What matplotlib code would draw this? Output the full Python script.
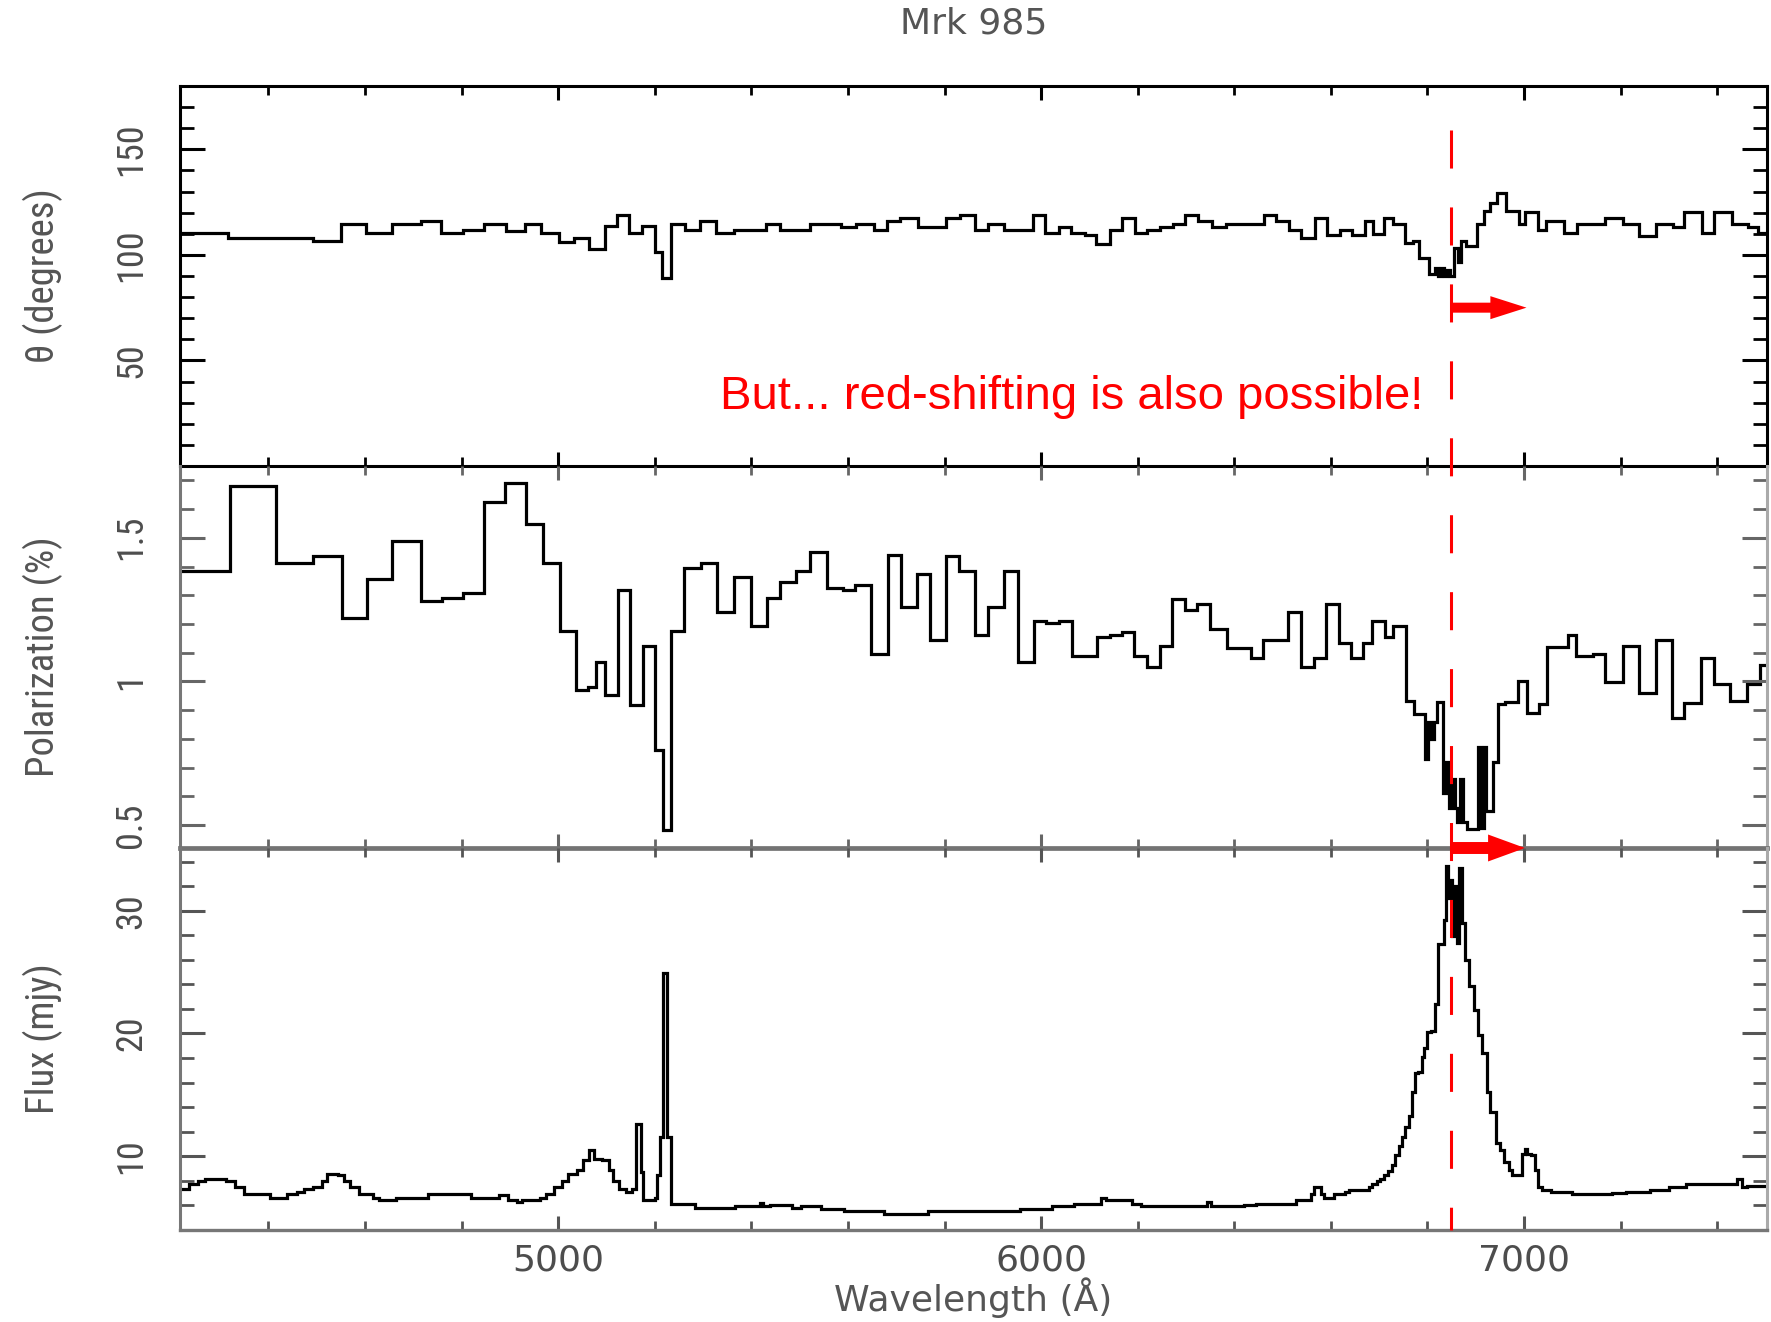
import os
import matplotlib
matplotlib.use('Agg')
import matplotlib.pyplot as plt
from matplotlib import font_manager
from matplotlib.font_manager import FontProperties
from matplotlib.ticker import MultipleLocator, FixedLocator, FixedFormatter
from matplotlib.lines import Line2D
from matplotlib.patches import FancyArrowPatch, ArrowStyle
from matplotlib.transforms import blended_transform_factory

plt.rcParams['lines.scale_dashes'] = False

# ---------------- data ----------------
title = "Mrk 985"
x_label = "Wavelength (Å)"
theta_label = "θ (degrees)"
pol_label = "Polarization (%)"
flux_label = "Flux (mjy)"
note_text = "But... red-shifting is also possible!"

x_range = [4217, 7503]
x_major = [5000, 6000, 7000]
x_major_labels = ["5000", "6000", "7000"]

theta_range = [0, 180]
theta_ticks = [50, 100, 150]
theta_tick_labels = ["50", "100", "150"]

pol_range = [0.42, 1.75]
pol_ticks = [0.5, 1.0, 1.5]
pol_tick_labels = ["0.5", "1", "1.5"]

flux_range = [4.0, 35.1]
flux_ticks = [10, 20, 30]
flux_tick_labels = ["10", "20", "30"]

line_wave = 6848          # marked line (Angstrom)
shift_to = 7005           # arrow tip (Angstrom)

theta_edges = [
    4217, 4317, 4492, 4550, 4603, 4656, 4716, 4758, 4804, 4846,
    4891, 4931, 4965, 5001, 5033, 5063, 5098, 5121, 5147, 5174,
    5200, 5216, 5234, 5262, 5293, 5327, 5364, 5431, 5459, 5521,
    5586, 5616, 5653, 5681, 5708, 5745, 5803, 5833, 5863, 5889,
    5924, 5983, 6008, 6037, 6062, 6091, 6114, 6142, 6168, 6195,
    6219, 6246, 6273, 6297, 6324, 6353, 6382, 6461, 6487, 6514,
    6538, 6568, 6591, 6618, 6643, 6670, 6688, 6710, 6729, 6753,
    6769, 6782, 6804, 6816, 6822, 6828, 6834, 6840, 6846, 6854,
    6864, 6870, 6879, 6902, 6916, 6930, 6943, 6962, 6989, 7002,
    7029, 7045, 7082, 7109, 7168, 7204, 7238, 7273, 7308, 7332,
    7369, 7393, 7431, 7463, 7484, 7510]
theta_values = [
    110.3, 107.9, 106.7, 114.6, 110.3, 114.6, 115.9, 110.3, 111.9, 114.6,
    111.4, 114.6, 110.3, 106.3, 107.9, 102.7, 113.5, 118.9, 110.3, 113.5,
    101.6, 89.2, 114.6, 111.9, 115.9, 110.3, 111.9, 114.6, 111.9, 114.6,
    113.3, 114.6, 111.9, 115.9, 117.3, 113.3, 117.3, 118.9, 111.7, 114.6,
    111.9, 118.9, 110.6, 113.3, 110.6, 109.5, 105.1, 111.9, 117.3, 110.6,
    111.9, 113.3, 114.6, 118.7, 115.9, 113.3, 114.6, 118.7, 115.9, 111.9,
    107.9, 117.3, 109.5, 111.9, 109.5, 115.9, 109.8, 117.3, 114.6, 105.4,
    106.7, 98.3, 91.1, 93.7, 90.0, 93.7, 90.0, 93.0, 90.0, 103.5,
    96.5, 106.7, 104.0, 114.6, 121.0, 124.4, 129.2, 121.0, 114.6, 120.2,
    111.9, 115.9, 110.3, 114.6, 117.3, 114.6, 109.0, 114.6, 113.3, 120.2,
    110.3, 120.2, 114.6, 113.3, 110.3]

pol_edges = [
    4217, 4320, 4416, 4493, 4552, 4604, 4656, 4716, 4760, 4804,
    4846, 4889, 4933, 4968, 5003, 5036, 5061, 5079, 5097, 5123,
    5149, 5175, 5201, 5217, 5234, 5261, 5296, 5329, 5364, 5399,
    5432, 5460, 5493, 5522, 5556, 5589, 5615, 5648, 5683, 5709,
    5744, 5769, 5804, 5830, 5864, 5890, 5923, 5952, 5986, 6011,
    6037, 6064, 6115, 6142, 6167, 6193, 6219, 6246, 6272, 6298,
    6322, 6349, 6384, 6434, 6459, 6511, 6538, 6564, 6589, 6617,
    6641, 6667, 6685, 6713, 6729, 6755, 6772, 6795, 6802, 6808,
    6814, 6820, 6832, 6838, 6844, 6850, 6856, 6862, 6868, 6874,
    6881, 6904, 6910, 6916, 6921, 6935, 6946, 6960, 6987, 7006,
    7030, 7048, 7090, 7107, 7142, 7167, 7204, 7239, 7274, 7307,
    7331, 7366, 7393, 7426, 7462, 7488, 7510]
pol_values = [
    1.385, 1.681, 1.413, 1.435, 1.221, 1.356, 1.488, 1.279, 1.289, 1.308,
    1.625, 1.690, 1.549, 1.413, 1.174, 0.970, 0.982, 1.068, 0.953, 1.318,
    0.917, 1.124, 0.761, 0.483, 1.174, 1.394, 1.413, 1.240, 1.364, 1.192,
    1.289, 1.347, 1.385, 1.451, 1.326, 1.318, 1.337, 1.095, 1.440, 1.260,
    1.373, 1.145, 1.435, 1.385, 1.163, 1.260, 1.385, 1.066, 1.211, 1.203,
    1.211, 1.087, 1.154, 1.163, 1.172, 1.087, 1.049, 1.124, 1.286, 1.249,
    1.269, 1.182, 1.116, 1.080, 1.145, 1.240, 1.049, 1.080, 1.269, 1.133,
    1.080, 1.135, 1.211, 1.155, 1.193, 0.931, 0.886, 0.73, 0.86, 0.80,
    0.86, 0.93, 0.61, 0.72, 0.56, 0.66, 0.56, 0.51, 0.66, 0.51,
    0.485, 0.77, 0.49, 0.77, 0.55, 0.72, 0.92, 0.93, 1.00, 0.89,
    0.92, 1.12, 1.161, 1.087, 1.097, 0.998, 1.124, 0.961, 1.145, 0.874,
    0.924, 1.080, 0.990, 0.932, 0.990, 1.058]

flux_edges = [
    4217, 4236, 4255, 4269, 4313, 4331, 4349, 4403, 4438, 4460,
    4474, 4492, 4510, 4522, 4545, 4557, 4569, 4587, 4617, 4629,
    4664, 4730, 4819, 4878, 4896, 4915, 4925, 4962, 4974, 4992,
    5007, 5021, 5039, 5051, 5063, 5075, 5090, 5105, 5114, 5126,
    5140, 5152, 5162, 5172, 5176, 5200, 5205, 5211, 5218, 5226,
    5233, 5283, 5366, 5418, 5425, 5438, 5485, 5503, 5545, 5592,
    5675, 5765, 5956, 6022, 6069, 6123, 6135, 6188, 6206, 6343,
    6352, 6421, 6444, 6528, 6558, 6565, 6579, 6586, 6606, 6630,
    6637, 6678, 6686, 6695, 6702, 6711, 6719, 6726, 6733, 6740,
    6748, 6753, 6762, 6768, 6775, 6781, 6789, 6793, 6800, 6807,
    6816, 6822, 6834, 6839, 6843, 6846, 6851, 6856, 6862, 6866,
    6871, 6877, 6887, 6896, 6904, 6913, 6923, 6930, 6942, 6950,
    6959, 6968, 6976, 6995, 7001, 7007, 7014, 7022, 7029, 7038,
    7055, 7099, 7182, 7212, 7260, 7301, 7336, 7440, 7451, 7462,
    7503]
flux_values = [
    7.37, 7.75, 8.0, 8.18, 7.99, 7.5, 6.9, 6.63, 6.9, 7.1,
    7.3, 7.5, 8.0, 8.59, 8.45, 8.0, 7.5, 6.96, 6.63, 6.41,
    6.63, 6.90, 6.63, 6.82, 6.46, 6.27, 6.46, 6.63, 6.96, 7.5,
    7.99, 8.59, 8.86, 9.67, 10.49, 9.81, 9.67, 8.86, 7.99, 7.36,
    7.09, 7.36, 12.66, 8.72, 6.41, 6.63, 8.45, 11.58, 24.9, 11.58,
    6.14, 5.79, 5.92, 6.2, 5.92, 6.0, 5.79, 5.92, 5.74, 5.55,
    5.27, 5.55, 5.74, 5.92, 6.14, 6.63, 6.46, 6.14, 5.92, 6.3,
    5.92, 6.0, 6.14, 6.41, 6.9, 7.5, 6.9, 6.63, 6.9, 7.1,
    7.28, 7.5, 7.77, 8.0, 8.18, 8.45, 8.81, 9.3, 10.1, 10.8,
    11.6, 12.4, 13.3, 15.2, 16.8, 16.9, 18.1, 18.8, 20.1, 20.2,
    22.4, 27.3, 29.2, 33.6, 31.0, 32.5, 27.9, 32.0, 27.4, 33.5,
    29.0, 26.0, 23.9, 21.9, 19.9, 18.4, 15.2, 13.6, 11.1, 10.5,
    9.55, 8.86, 8.45, 10.2, 10.6, 10.2, 10.1, 8.86, 7.5, 7.28,
    7.09, 6.90, 7.0, 7.09, 7.28, 7.5, 7.77, 8.18, 7.5, 7.55]

# ---------------- fonts ----------------
_files = [f.fname for f in font_manager.fontManager.ttflist]


def _find(keys):
    for k in keys:
        for fn in _files:
            if os.path.basename(fn).lower() == k.lower():
                return fn
    return None


# narrow fonts for the vertical texts; size factors tuned per font
_narrow_choices = [
    ('LiberationSansNarrow-Regular.ttf', 1.0),
    ('RobotoCondensed-Regular.ttf', 0.9),
    ('DejaVuSansCondensed.ttf', 0.8),
]
NARROW_FILE, NSCALE = None, 0.72
for fname, sc in _narrow_choices:
    found = _find([fname])
    if found:
        NARROW_FILE, NSCALE = found, sc
        break


def narrow_fp(size):
    if NARROW_FILE:
        return FontProperties(fname=NARROW_FILE, size=size * NSCALE)
    return FontProperties(family='DejaVu Sans', size=size * NSCALE)


ARIAL = ['Liberation Sans', 'DejaVu Sans']
WIDE = ['DejaVu Sans']
GREY_TXT = '#4d4d4d'

# ---------------- figure ----------------
W, H = 1771, 1322
fig = plt.figure(figsize=(W / 100, H / 100), dpi=100)
fig.patch.set_facecolor('white')
L, R = 180, 1767


def rect(top, bottom):
    return [L / W, 1 - bottom / H, (R - L) / W, (bottom - top) / H]


ax1 = fig.add_axes(rect(86, 466))
ax2 = fig.add_axes(rect(466, 848))
ax3 = fig.add_axes(rect(848, 1230))


def style(ax, ylim, yticks, ylabels, yminor, tick_col):
    ax.patch.set_visible(False)
    ax.set_xlim(*x_range)
    ax.set_ylim(*ylim)
    ax.xaxis.set_major_locator(FixedLocator(x_major))
    ax.xaxis.set_major_formatter(FixedFormatter(x_major_labels))
    ax.xaxis.set_minor_locator(MultipleLocator(200))
    ax.yaxis.set_major_locator(FixedLocator(yticks))
    ax.yaxis.set_major_formatter(FixedFormatter(ylabels))
    ax.yaxis.set_minor_locator(MultipleLocator(yminor))
    ax.tick_params(axis='both', which='both', direction='in', top=True,
                   right=True, color=tick_col)
    ax.tick_params(axis='x', which='major', length=10, width=2.2)
    ax.tick_params(axis='x', which='minor', length=6.5, width=2.0)
    ax.tick_params(axis='y', which='major', length=18, width=2.2)
    ax.tick_params(axis='y', which='minor', length=10, width=2.0)
    ax.tick_params(axis='y', labelrotation=90, pad=22, labelcolor=GREY_TXT)
    ax.tick_params(axis='x', pad=10, labelsize=26, labelcolor=GREY_TXT)
    for lb in ax.get_yticklabels():
        lb.set_fontproperties(narrow_fp(29))
        lb.set_va('center')
    for lb in ax.get_xticklabels():
        lb.set_fontfamily(WIDE)


style(ax1, theta_range, theta_ticks, theta_tick_labels, 10, 'black')
style(ax2, pol_range, pol_ticks, pol_tick_labels, 0.1, '#666666')
style(ax3, flux_range, flux_ticks, flux_tick_labels, 2, '#555555')
ax1.tick_params(axis='x', labelbottom=False)
ax2.tick_params(axis='x', labelbottom=False)

# spines
for s in ax1.spines.values():
    s.set_color('black')
    s.set_linewidth(2.2)
ax2.spines['top'].set_visible(False)
ax2.spines['left'].set_color('#777777')
ax2.spines['left'].set_linewidth(2.2)
ax2.spines['right'].set_color('#aaaaaa')
ax2.spines['right'].set_linewidth(2.2)
ax2.spines['bottom'].set_color('#737373')
ax2.spines['bottom'].set_linewidth(3.4)
ax3.spines['top'].set_visible(False)
ax3.spines['left'].set_color('#777777')
ax3.spines['left'].set_linewidth(2.2)
ax3.spines['right'].set_color('#aaaaaa')
ax3.spines['right'].set_linewidth(2.2)
ax3.spines['bottom'].set_color('#777777')
ax3.spines['bottom'].set_linewidth(2.4)


def stair(ax, values, edges):
    n = min(len(values), len(edges) - 1)
    st = ax.stairs(values[:n], edges[:n + 1], baseline=None,
                   color='black', linewidth=2.3)
    st.set_joinstyle('miter')
    return st


stair(ax1, theta_values, theta_edges)
stair(ax2, pol_values, pol_edges)
stair(ax3, flux_values, flux_edges)

# axis labels
XL = (43 - L) / (R - L)
for ax, lab in ((ax1, theta_label), (ax2, pol_label), (ax3, flux_label)):
    ax.set_ylabel(lab, fontproperties=narrow_fp(31), color='#555555',
                  va='center')
    ax.yaxis.set_label_coords(XL, 0.5)
ax3.set_xlabel(x_label, family=WIDE, fontsize=26, color='#555555',
               va='baseline')
ax3.xaxis.set_label_coords(0.5, (1230 - 1311) / 382)

fig.text(((L + R) / 2) / W, 1 - 24 / H, title, ha='center', va='center',
         fontsize=26, color='#555555', family=WIDE)

# annotation text
ax1.text(6064, 27.2, note_text, family=ARIAL, fontsize=34, color='red',
         ha='center', va='baseline')

# dashed marker line spanning panels
blend = blended_transform_factory(ax3.transData, fig.transFigure)
fig.add_artist(Line2D([line_wave, line_wave], [1 - 130 / H, 1 - 1230 / H],
                      transform=blend, color='red', linewidth=2.2,
                      linestyle=(0, (27.4, 28.0)), zorder=10))

# arrows
a1 = FancyArrowPatch((line_wave, 75), (shift_to, 75),
                     arrowstyle=ArrowStyle.Simple(head_length=26, head_width=16.6,
                                                  tail_width=7.2),
                     mutation_scale=1, color='red', shrinkA=0, shrinkB=0,
                     linewidth=0, zorder=12, clip_on=False)
ax1.add_patch(a1)
a2 = FancyArrowPatch((line_wave, pol_range[0]), (shift_to - 3, pol_range[0]),
                     arrowstyle=ArrowStyle.Simple(head_length=26.6, head_width=19.4,
                                                  tail_width=8.6),
                     mutation_scale=1, color='red', shrinkA=0, shrinkB=0,
                     linewidth=0, zorder=12, clip_on=False)
ax2.add_patch(a2)

fig.savefig('out.png', dpi=100, facecolor='white')
